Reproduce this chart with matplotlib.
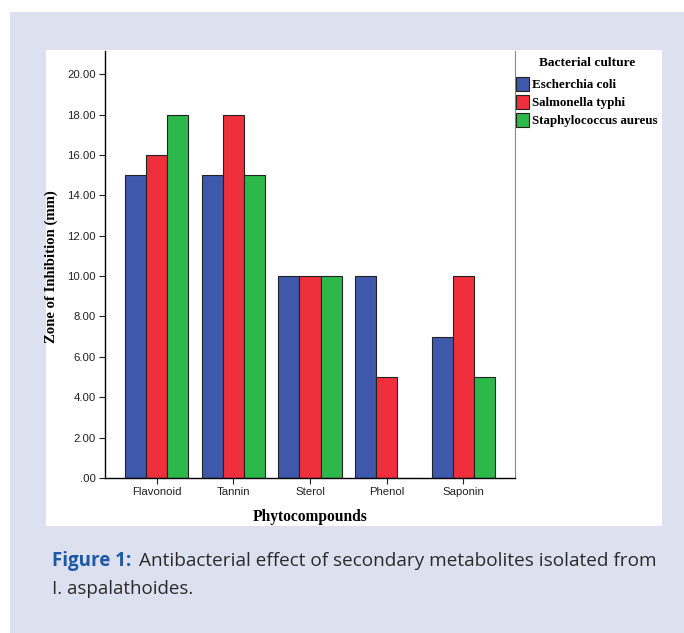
import numpy as np
import matplotlib.pyplot as plt
from matplotlib.patches import Rectangle

# Dados
compounds = ['Flavonoid', 'Tannin', 'Sterol', 'Phenol', 'Saponin']
e_coli = [15, 15, 10, 10, 7]
s_typhi = [16, 18, 10, 5, 10]
s_aureus = [18, 15, 10, 0, 5]
series_names = ['Escherchia coli', 'Salmonella typhi', 'Staphylococcus aureus']
colors = ['#3e58ac', '#ef2f3b', '#2db84b']
yticks = [0, 2, 4, 6, 8, 10, 12, 14, 16, 18, 20]

W, H = 684, 633
fig = plt.figure(figsize=(W / 100, H / 100), dpi=100)
fig.patch.set_facecolor('white')

# fundo lavanda e painel branco
fig.patches.append(Rectangle((10 / W, 0), 1 - 10 / W, 1 - 12 / H, transform=fig.transFigure,
                             facecolor='#dde0ef', edgecolor='none', zorder=-3))
fig.patches.append(Rectangle((46 / W, 1 - 526 / H), (662 - 46) / W, (526 - 50) / H,
                             transform=fig.transFigure, facecolor='white', edgecolor='none', zorder=-2))

ax = fig.add_axes([105 / W, 1 - 478 / H, (515 - 105) / W, (478 - 51) / H])
x = np.arange(len(compounds))
w = 0.274
for i, (vals, name, c) in enumerate(zip([e_coli, s_typhi, s_aureus], series_names, colors)):
    ax.bar(x + (i - 1) * w, vals, w, color=c, edgecolor='#222222', linewidth=0.8, label=name)

ax.set_xlim(-0.674, 4.674)
ax.set_ylim(0, 21.15)
ax.set_yticks(yticks)
ax.set_yticklabels(['.00'] + [f'{v:.2f}' for v in yticks[1:]])
ax.set_xticks(x)
ax.set_xticklabels(compounds)
ax.tick_params(labelsize=8.2, length=4, width=0.8, color='#222222', pad=2.5)
for lab in ax.get_xticklabels() + ax.get_yticklabels():
    lab.set_family('Liberation Sans')
    lab.set_color('#222222')
ax.spines['top'].set_visible(False)
ax.spines['right'].set_color('#888888')
ax.spines['left'].set_linewidth(1.0)
ax.spines['bottom'].set_linewidth(1.0)

fig.text(310 / W, 1 - 517 / H, 'Phytocompounds', ha='center', va='center',
         family='Liberation Serif', fontweight='bold', fontsize=11.2)
fig.text(51 / W, 1 - 267 / H, 'Zone of Inhibition (mm)', ha='center', va='center', rotation=90,
         family='Liberation Serif', fontweight='bold', fontsize=10.6)

leg = fig.legend(loc='upper left', bbox_to_anchor=(516 / W, 1 - 57 / H), frameon=False,
                 title='Bacterial culture', prop={'family': 'Liberation Serif', 'weight': 'bold', 'size': 9.4},
                 handlelength=1.0, handleheight=1.2, handletextpad=0.2, labelspacing=0.3,
                 borderaxespad=0, borderpad=0)
leg.get_title().set_family('Liberation Serif')
leg.get_title().set_fontweight('bold')
leg.get_title().set_fontsize(9.6)
leg._legend_box.align = 'center'
leg._legend_box.sep = 6

fig.text(52 / W, 1 - 561 / H, 'Figure 1:', ha='left', va='center', color='#1d59a6',
         family='Open Sans', fontweight='bold', fontsize=13.5)
fig.text(139 / W, 1 - 561 / H, 'Antibacterial effect of secondary metabolites isolated from',
         ha='left', va='center', color='#2b2b2b', family='Open Sans', fontsize=13.7)
fig.text(52 / W, 1 - 589 / H, 'I. aspalathoides.', ha='left', va='center', color='#2b2b2b',
         family='Open Sans', fontsize=13.5)

fig.savefig('out.png', dpi=100)
